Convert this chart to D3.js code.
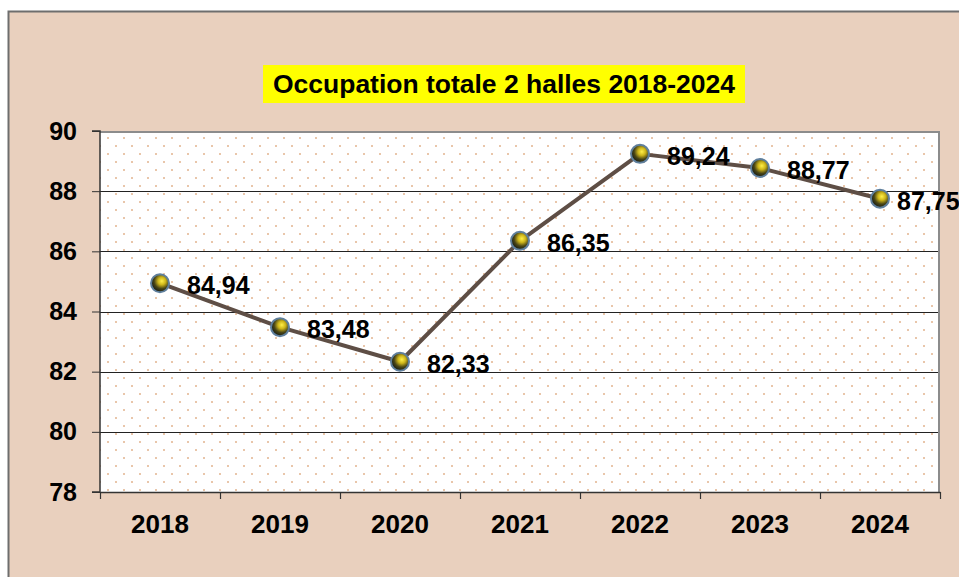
<!DOCTYPE html>
<html>
<head>
<meta charset="utf-8">
<script src="https://cdn.jsdelivr.net/npm/d3@7"></script>
<style>
  body { margin: 0; background: #fff; }
  svg { display: block; font-family: Arial, "Liberation Sans", sans-serif; }
</style>
</head>
<body>
<div id="chart-area"></div>
<script>
// Occupation totale 2 halles
var years = ["2018", "2019", "2020", "2021", "2022", "2023", "2024"];
var occupation = [84.94, 83.48, 82.33, 86.35, 89.24, 88.77, 87.75];
var yTicks = [78, 80, 82, 84, 86, 88, 90];
var title = "Occupation totale 2 halles 2018-2024";

var W = 959, H = 577;
var margin = {top: 131, left: 100, bottom: 85, right: 19};
var width = W - margin.left - margin.right,
    height = H - margin.top - margin.bottom;

var svg = d3.select("#chart-area")
    .append("svg")
        .attr("width", W)
        .attr("height", H);

var defs = svg.append("defs");

// dotted plot background
var pat = defs.append("pattern")
    .attr("id", "dots")
    .attr("patternUnits", "userSpaceOnUse")
    .attr("x", margin.left + 3).attr("y", margin.top + 3)
    .attr("width", 16).attr("height", 16);
pat.append("rect").attr("width", 16).attr("height", 16).attr("fill", "#ffffff");
pat.append("rect").attr("x", 0).attr("y", 0).attr("width", 2).attr("height", 2).attr("fill", "#e9c6aa");
pat.append("rect").attr("x", 8).attr("y", 8).attr("width", 2).attr("height", 2).attr("fill", "#e9c6aa");

// marker fill
var grad = defs.append("radialGradient")
    .attr("id", "ball")
    .attr("cx", "60%").attr("cy", "38%").attr("r", "60%");
grad.append("stop").attr("offset", "0%").attr("stop-color", "#fff04a");
grad.append("stop").attr("offset", "35%").attr("stop-color", "#cdb51a");
grad.append("stop").attr("offset", "70%").attr("stop-color", "#4a4616");
grad.append("stop").attr("offset", "100%").attr("stop-color", "#1e2012");

// chart area background
svg.append("rect")
    .attr("x", 8.5).attr("y", 11.5)
    .attr("width", W + 10).attr("height", H + 10)
    .attr("fill", "#e9d0be")
    .attr("stroke", "#6e6e6e")
    .attr("stroke-width", 2);

// title
var tg = svg.append("g");
tg.append("rect")
    .attr("x", 263).attr("y", 65)
    .attr("width", 482).attr("height", 38)
    .attr("fill", "#ffff00");
tg.append("text")
    .attr("x", 504).attr("y", 93)
    .attr("text-anchor", "middle")
    .attr("font-size", "26px")
    .attr("font-weight", "bold")
    .attr("textLength", 462)
    .attr("lengthAdjust", "spacingAndGlyphs")
    .text(title);

var g = svg.append("g")
    .attr("transform", "translate(" + margin.left + ", " + margin.top + ")");

// Scale
var x = d3.scaleBand()
    .domain(years)
    .range([0, width]);

var y = d3.scaleLinear()
    .domain([78, 90])
    .range([height, 0]);

// plot area
g.append("rect")
    .attr("width", width).attr("height", height)
    .attr("fill", "url(#dots)");

// gridlines
g.selectAll(".grid")
    .data(yTicks.slice(1, -1))
    .enter().append("line")
        .attr("class", "grid")
        .attr("x1", 0).attr("x2", width)
        .attr("y1", d => Math.round(y(d)) + 0.5)
        .attr("y2", d => Math.round(y(d)) + 0.5)
        .attr("stroke", "#222")
        .attr("stroke-width", 1);

// plot border top/right
g.append("path")
    .attr("d", "M0," + 1 + "H" + (width - 1) + "V" + height)
    .attr("fill", "none")
    .attr("stroke", "#8c8c8c")
    .attr("stroke-width", 2);

// Axes
var yAxis = d3.axisLeft(y)
    .tickValues(yTicks)
    .tickSize(8)
    .tickPadding(15)
    .tickFormat(d => d);
var ya = g.append("g")
    .attr("class", "y axis")
    .call(yAxis);

var xAxis = d3.axisBottom(x)
    .tickSize(0)
    .tickPadding(23);
var xa = g.append("g")
    .attr("class", "x axis")
    .attr("transform", "translate(0, " + height + ")")
    .call(xAxis);

// category separators on x axis
xa.selectAll(".sep")
    .data(d3.range(years.length + 1))
    .enter().append("line")
        .attr("class", "sep")
        .attr("x1", i => i * x.step() + 0.5)
        .attr("x2", i => i * x.step() + 0.5)
        .attr("y1", 0).attr("y2", 7)
        .attr("stroke", "#333")
        .attr("stroke-width", 1.2);

[ya, xa].forEach(a => {
    a.attr("font-size", null).attr("font-family", null);
    a.select(".domain").attr("stroke", "#333").attr("stroke-width", 1.5);
    a.selectAll(".tick line").attr("stroke", "#333");
    a.selectAll("text")
        .attr("fill", "#000")
        .style("font-size", "25px")
        .style("font-weight", "bold")
        .style("font-family", "Arial, 'Liberation Sans', sans-serif");
});
xa.selectAll("text").style("font-size", "26px");
ya.select(".domain").attr("d", "M-8," + height + "H0V0H-8");

// line
var line = d3.line()
    .x((d, i) => x(years[i]) + x.bandwidth() / 2)
    .y(d => y(d));

g.append("path")
    .datum(occupation)
    .attr("d", line)
    .attr("fill", "none")
    .attr("stroke", "#5e4e45")
    .attr("stroke-width", 4)
    .attr("stroke-linejoin", "round");

// markers
g.selectAll(".pt")
    .data(occupation)
    .enter().append("circle")
        .attr("class", "pt")
        .attr("cx", (d, i) => x(years[i]) + x.bandwidth() / 2)
        .attr("cy", d => y(d))
        .attr("r", 9)
        .attr("fill", "url(#ball)")
        .attr("stroke", "#5f7f9c")
        .attr("stroke-width", 2);

// data labels (last one is pulled in a bit, as in the original)
g.selectAll(".lbl")
    .data(occupation)
    .enter().append("text")
        .attr("class", "lbl")
        .attr("x", (d, i) => x(years[i]) + x.bandwidth() / 2 + (i === occupation.length - 1 ? 17 : 27))
        .attr("y", d => y(d) + 11)
        .attr("font-size", "25px")
        .attr("font-weight", "bold")
        .text(d => d3.format(".2f")(d).replace(".", ","));
</script>
</body>
</html>
